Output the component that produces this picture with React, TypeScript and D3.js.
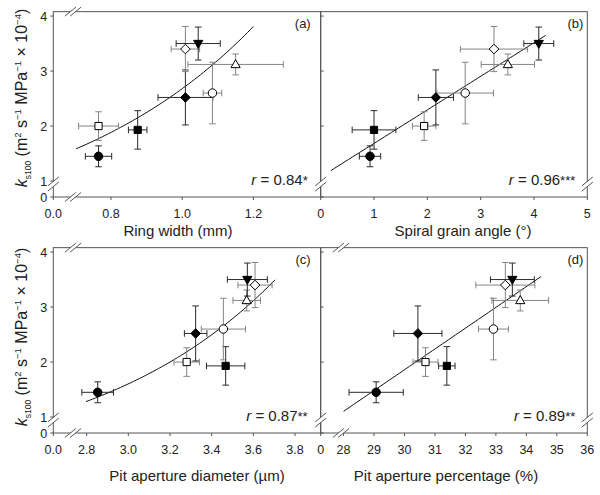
import React from 'react';
import * as d3 from 'd3';

// eight samples, same order in every panel
const shapes = ['circle', 'square', 'square', 'diamond', 'circle', 'triangle', 'diamond', 'triangleDown'];
const filled = [true, true, false, true, false, false, false, true];
const kValues = [1.45, 1.93, 2.0, 2.52, 2.6, 3.12, 3.4, 3.5];
const kErrors = [0.19, 0.35, 0.26, 0.5, 0.56, 0.19, 0.41, 0.3];

const ringWidth = [0.765, 0.875, 0.765, 1.009, 1.085, 1.15, 1.009, 1.045];
const ringWidthErr = [0.037, 0.026, 0.056, 0.077, 0.026, 0.134, 0.04, 0.062];

const spiralAngle = [0.925, 1.0, 1.94, 2.16, 2.71, 3.51, 3.25, 4.09];
const spiralAngleErr = [0.2, 0.41, 0.22, 0.33, 0.53, 0.5, 0.63, 0.28];

const pitDiameter = [2.853, 3.467, 3.28, 3.323, 3.456, 3.568, 3.608, 3.571];
const pitDiameterErr = [0.076, 0.092, 0.061, 0.054, 0.106, 0.066, 0.082, 0.096];

const pitPercent = [29.07, 31.39, 30.69, 30.44, 32.92, 33.8, 33.31, 33.54];
const pitPercentErr = [0.89, 0.27, 0.41, 0.79, 0.49, 0.93, 0.97, 0.72];

const yTicks = [1, 2, 3, 4];
const ringTicks = [0.8, 1.0, 1.2];
const spiralTicks = [0, 1, 2, 3, 4, 5];
const diameterTicks = [2.8, 3.0, 3.2, 3.4, 3.6, 3.8];
const percentTicks = [28, 29, 30, 31, 32, 33, 34, 35, 36];

// fitted curves: exp -> a*exp(b*x), lin -> a + b*x
const fits = [
  { type: 'exp', a: 0.461, b: 1.76, from: 0.702, to: 1.2 },
  { type: 'lin', a: 1.074, b: 0.61, from: 0.19, to: 4.22 },
  { type: 'exp', a: 0.0579, b: 1.107, from: 2.797, to: 3.704 },
  { type: 'lin', a: -9.48, b: 0.378, from: 28.0, to: 34.48 },
];
const rLabels = [
  { r: '0.84', stars: '*' },
  { r: '0.96', stars: '***' },
  { r: '0.87', stars: '**' },
  { r: '0.89', stars: '**' },
];
const xTitles = ['Ring width (mm)', 'Spiral grain angle (°)', 'Pit aperture diameter (µm)', 'Pit aperture percentage (%)'];
const panelTags = ['(a)', '(b)', '(c)', '(d)'];

const FONT = "'Liberation Sans', Arial, sans-serif";
const AXIS = '#555';
const TXT = '#222';

const L = 53.3;
const M = 320.7;
const R = 587.3;
const yDomain = [0.71, 4.08];

const panels = [
  { x: ringWidth, xe: ringWidthErr, ticks: ringTicks, domain: [0.638, 1.389], x0: L, x1: M, bottom: 197, fmt: '.1f', zero: '0.0', xBreak: 73, left: true, titleX: 178, titleY: 236 },
  { x: spiralAngle, xe: spiralAngleErr, ticks: spiralTicks, domain: [0, 5], x0: M, x1: R, bottom: 197, fmt: 'd', zero: null, xBreak: null, left: false, titleX: 463, titleY: 236 },
  { x: pitDiameter, xe: pitDiameterErr, ticks: diameterTicks, domain: [2.64, 3.923], x0: L, x1: M, bottom: 433, fmt: '.1f', zero: '0.0', xBreak: 73, left: true, titleX: 197, titleY: 481 },
  { x: pitPercent, xe: pitPercentErr, ticks: percentTicks, domain: [27.25, 36], x0: M, x1: R, bottom: 433, fmt: 'd', zero: '0', xBreak: 341, left: false, titleX: 446, titleY: 481 },
];

function markerPath(shape: string) {
  switch (shape) {
    case 'circle':
      return d3.symbol(d3.symbolCircle, 56)();
    case 'square':
      return 'M-3.6,-3.6H3.6V3.6H-3.6Z';
    case 'diamond':
      return 'M0,-4.8L4.8,0L0,4.8L-4.8,0Z';
    case 'triangle':
      return 'M0,-4.8L4.6,3.2L-4.6,3.2Z';
    default:
      return 'M0,4.8L4.6,-3.2L-4.6,-3.2Z';
  }
}

// "//" axis break mark; horizontal=true when it sits on a horizontal line
const Break = ({ cx, cy, horizontal }: { cx: number; cy: number; horizontal: boolean }) => {
  const o = 2.6;
  const a = horizontal ? [cx - o, cy] : [cx, cy - o];
  const b = horizontal ? [cx + o, cy] : [cx, cy + o];
  const seg = (p: number[]) => `M${p[0] - 5.5},${p[1] + 4.5}L${p[0] + 5.5},${p[1] - 4.5}`;
  const fillPts = [
    [a[0] - 5.5, a[1] + 4.5],
    [a[0] + 5.5, a[1] - 4.5],
    [b[0] + 5.5, b[1] - 4.5],
    [b[0] - 5.5, b[1] + 4.5],
  ];
  return (
    <g>
      <polygon points={fillPts.map((p) => p.join(',')).join(' ')} fill="#fff" />
      <path d={seg(a) + seg(b)} stroke={AXIS} strokeWidth={1} fill="none" />
    </g>
  );
};

const Panel = ({ p, i }: { p: any; i: number }) => {
  const top = p.bottom - (yDomain[1] - yDomain[0]) * 55;
  const x = d3.scaleLinear().domain(p.domain).range([p.x0, p.x1]);
  const y = d3.scaleLinear().domain(yDomain).range([p.bottom, top]);
  const fmt = d3.format(p.fmt);
  const fit = fits[i];
  const fitX = d3.range(fit.from, fit.to + 1e-9, (fit.to - fit.from) / 60);
  const line = d3
    .line<number>()
    .x((d) => x(d))
    .y((d) => y(fit.type === 'exp' ? fit.a * Math.exp(fit.b * d) : fit.a + fit.b * d));
  const yBreak = p.bottom - 13;
  const cap = 3.3;

  return (
    <g>
      {/* frame */}
      <rect x={p.x0} y={top} width={p.x1 - p.x0} height={p.bottom - top} fill="none" stroke={AXIS} strokeWidth={1} />

      {/* y ticks */}
      {yTicks.map((t) => (
        <line key={t} x1={p.x0} x2={p.left ? p.x0 - 3 : p.x0 + 3} y1={y(t)} y2={y(t)} stroke={AXIS} />
      ))}
      <line x1={p.x0} x2={p.left ? p.x0 - 3 : p.x0 + 3} y1={p.bottom} y2={p.bottom} stroke={AXIS} />
      {p.left &&
        yTicks.map((t) => (
          <text key={t} x={p.x0 - 6} y={y(t) + 4.5} textAnchor="end" fontSize={12.5} fill={TXT} fontFamily={FONT}>
            {t}
          </text>
        ))}
      {p.left && (
        <text x={p.x0 - 6} y={p.bottom + 4.5} textAnchor="end" fontSize={12.5} fill={TXT} fontFamily={FONT}>
          0
        </text>
      )}

      {/* x ticks */}
      {p.ticks.map((t: number) => (
        <g key={t}>
          <line x1={x(t)} x2={x(t)} y1={p.bottom} y2={p.bottom + 3} stroke={AXIS} />
          <text x={x(t)} y={p.bottom + 21} textAnchor="middle" fontSize={12.5} fill={TXT} fontFamily={FONT}>
            {fmt(t)}
          </text>
        </g>
      ))}
      {p.zero && (
        <g>
          <line x1={p.x0} x2={p.x0} y1={p.bottom} y2={p.bottom + 3} stroke={AXIS} />
          <text x={p.x0} y={p.bottom + 21} textAnchor="middle" fontSize={12.5} fill={TXT} fontFamily={FONT}>
            {p.zero}
          </text>
        </g>
      )}

      {/* breaks */}
      <Break cx={p.x0} cy={yBreak} horizontal={false} />
      {!p.left && <Break cx={p.x1} cy={yBreak} horizontal={false} />}
      {p.xBreak && <Break cx={p.xBreak} cy={p.bottom} horizontal={true} />}
      {p.xBreak && <Break cx={p.xBreak} cy={top} horizontal={true} />}

      {/* fit */}
      <path d={line(fitX) || ''} fill="none" stroke="#111" strokeWidth={1} />

      {/* error bars */}
      {p.x.map((xv: number, j: number) => {
        const c = filled[j] ? '#2a2a2a' : '#858585';
        const cx = x(xv);
        const cy = y(kValues[j]);
        const xl = x(xv - p.xe[j]);
        const xr = x(xv + p.xe[j]);
        const yt = y(kValues[j] + kErrors[j]);
        const yb = y(kValues[j] - kErrors[j]);
        return (
          <g key={j} stroke={c} strokeWidth={1}>
            <line x1={xl} x2={xr} y1={cy} y2={cy} />
            <line x1={xl} x2={xl} y1={cy - cap} y2={cy + cap} />
            <line x1={xr} x2={xr} y1={cy - cap} y2={cy + cap} />
            <line x1={cx} x2={cx} y1={yt} y2={yb} />
            <line x1={cx - cap} x2={cx + cap} y1={yt} y2={yt} />
            <line x1={cx - cap} x2={cx + cap} y1={yb} y2={yb} />
          </g>
        );
      })}

      {/* markers */}
      {p.x.map((xv: number, j: number) => (
        <path
          key={j}
          d={markerPath(shapes[j]) || ''}
          transform={`translate(${x(xv)},${y(kValues[j])})`}
          fill={filled[j] ? '#000' : '#fff'}
          stroke="#000"
          strokeWidth={1}
        />
      ))}

      {/* labels */}
      <text x={p.left ? p.x1 - 10 : p.x1 - 4} y={top + 16} textAnchor="end" fontSize={13} fill={TXT} fontFamily={FONT}>
        {panelTags[i]}
      </text>
      <text x={p.left ? p.x1 - 13 : p.x1 - 12} y={p.bottom - 12} textAnchor="end" fontSize={15} fill={TXT} fontFamily={FONT}>
        <tspan fontStyle="italic">r</tspan>
        <tspan>{` = ${rLabels[i].r}`}</tspan>
        <tspan fontSize={13}>{rLabels[i].stars}</tspan>
      </text>
      <text x={p.titleX} y={p.titleY} textAnchor="middle" fontSize={15} fill={TXT} fontFamily={FONT}>
        {xTitles[i]}
      </text>
    </g>
  );
};

const YTitle = ({ cy }: { cy: number }) => (
  <text transform={`translate(27,${cy}) rotate(-90)`} textAnchor="middle" fontSize={16} fill={TXT} fontFamily={FONT}>
    <tspan fontStyle="italic">k</tspan>
    <tspan fontSize={8.5} dy={4}>s100</tspan>
    <tspan dy={-4}> (m</tspan>
    <tspan fontSize={9.5} dy={-6}>2</tspan>
    <tspan dy={6}> s</tspan>
    <tspan fontSize={9.5} dy={-6}>−1</tspan>
    <tspan dy={6}> MPa</tspan>
    <tspan fontSize={9.5} dy={-6}>−1</tspan>
    <tspan dy={6}> × 10</tspan>
    <tspan fontSize={9.5} dy={-6}>−4</tspan>
    <tspan dy={6}>)</tspan>
  </text>
);

export default function App() {
  return (
    <svg width={600} height={495} style={{ position: 'absolute', left: 0, top: 0, background: '#fff' }}>
      {panels.map((p, i) => (
        <Panel key={i} p={p} i={i} />
      ))}
      <YTitle cy={98} />
      <YTitle cy={337} />
    </svg>
  );
}
